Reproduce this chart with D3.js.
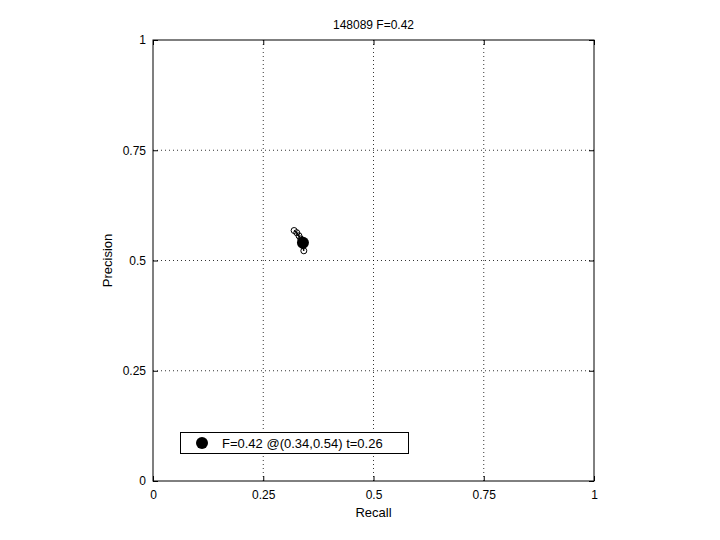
<!DOCTYPE html>
<html><head><meta charset="utf-8">
<script src="https://cdn.jsdelivr.net/npm/d3@7"></script>
<style>body{margin:0;background:#fff}svg{display:block}text{font-family:"Liberation Sans",Arial,sans-serif;}</style>
</head><body>
<svg id="c" width="720" height="540"></svg>
<script>
const titleText = "148089 F=0.42";
const recall = [0.320, 0.326, 0.331, 0.335, 0.338, 0.340, 0.342];
const precision = [0.568, 0.563, 0.556, 0.549, 0.543, 0.534, 0.522];
const bestR = 0.34, bestP = 0.54;
const legendText = "F=0.42 @(0.34,0.54) t=0.26";
const ticks = [0, 0.25, 0.5, 0.75, 1];
const tickLabels = ["0", "0.25", "0.5", "0.75", "1"];

const svg = d3.select("#c");
const L = 153, R = 594, T = 40, B = 481;
const x = d3.scaleLinear().domain([0,1]).range([L,R]);
const y = d3.scaleLinear().domain([0,1]).range([B,T]);

// grid
const g = svg.append("g");
ticks.slice(1,4).forEach(t=>{
  g.append("line").attr("x1",x(t)).attr("x2",x(t)).attr("y1",T).attr("y2",B)
   .attr("stroke","#000").attr("stroke-width",0.8).attr("stroke-dasharray","1,3");
  g.append("line").attr("y1",y(t)).attr("y2",y(t)).attr("x1",L).attr("x2",R)
   .attr("stroke","#000").attr("stroke-width",0.8).attr("stroke-dasharray","1,3");
});

// axes with inward ticks
const fmt = (d)=>tickLabels[ticks.indexOf(d)];
const ax = svg.append("g").attr("transform",`translate(0,${B})`)
  .call(d3.axisBottom(x).tickValues(ticks).tickFormat(fmt).tickSizeInner(-5).tickSizeOuter(0).tickPadding(9));
const ay = svg.append("g").attr("transform",`translate(${L},0)`)
  .call(d3.axisLeft(y).tickValues(ticks).tickFormat(fmt).tickSizeInner(-5).tickSizeOuter(0).tickPadding(7));
const at = svg.append("g").attr("transform",`translate(0,${T})`)
  .call(d3.axisTop(x).tickValues(ticks).tickFormat("").tickSizeInner(-5).tickSizeOuter(0));
const ar = svg.append("g").attr("transform",`translate(${R},0)`)
  .call(d3.axisRight(y).tickValues(ticks).tickFormat("").tickSizeInner(-5).tickSizeOuter(0));
[ax,ay,at,ar].forEach(a=>{
  a.select(".domain").remove();
  a.selectAll("text").attr("font-size",12).attr("fill","#000").style("font-family","Liberation Sans, Arial, sans-serif");
  a.selectAll("line").attr("stroke","#000");
});
svg.append("rect").attr("x",L).attr("y",T).attr("width",R-L).attr("height",B-T)
  .attr("fill","none").attr("stroke","#000").attr("stroke-width",1);

// data
const line = d3.line().x((d,i)=>x(recall[i])).y((d,i)=>y(precision[i]));
svg.append("path").attr("d",line(recall)).attr("fill","none").attr("stroke","#000").attr("stroke-width",1.5);
svg.selectAll("circle.pt").data(recall).join("circle").attr("class","pt")
  .attr("cx",(d)=>x(d)).attr("cy",(d,i)=>y(precision[i])).attr("r",3)
  .attr("fill","none").attr("stroke","#000").attr("stroke-width",1);
svg.append("circle").attr("cx",x(bestR)).attr("cy",y(bestP)).attr("r",6).attr("fill","#000");

// legend
const lg = svg.append("g");
lg.append("rect").attr("x",180.5).attr("y",432.5).attr("width",228).attr("height",21)
  .attr("fill","#fff").attr("stroke","#000").attr("stroke-width",1);
lg.append("circle").attr("cx",202).attr("cy",443).attr("r",6).attr("fill","#000");
lg.append("text").attr("x",222).attr("y",448).attr("font-size",13).text(legendText);

// titles
svg.append("text").attr("x",(L+R)/2).attr("y",29).attr("text-anchor","middle").attr("font-size",12).text(titleText);
svg.append("text").attr("x",(L+R)/2).attr("y",517).attr("text-anchor","middle").attr("font-size",13).text("Recall");
svg.append("text").attr("transform",`translate(112,${(T+B)/2}) rotate(-90)`).attr("text-anchor","middle").attr("font-size",13).text("Precision");
</script>
</body></html>
